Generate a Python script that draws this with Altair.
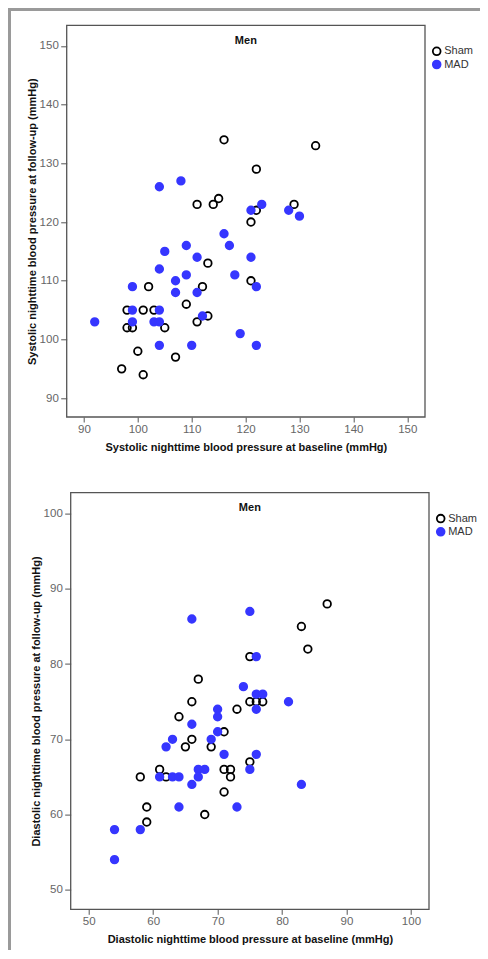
import altair as alt
import pandas as pd

# ---------------- data ----------------
groups = ["Sham", "MAD"]

sys_sham_base = [116, 133, 122, 115, 111, 114, 129, 122, 121, 113, 121, 102, 112, 109,
                 98, 101, 103, 98, 99, 105, 111, 113, 100, 107, 97, 101]
sys_sham_follow = [134, 133, 129, 124, 123, 123, 123, 122, 120, 113, 110, 109, 109, 106,
                   105, 105, 105, 102, 102, 102, 103, 104, 98, 97, 95, 94]
sys_mad_base = [104, 108, 121, 123, 128, 130, 116, 117, 109, 105, 111, 121, 104, 109, 118,
                107, 99, 122, 107, 111, 99, 104, 92, 99, 103, 104, 112, 119, 104, 110, 122]
sys_mad_follow = [126, 127, 122, 123, 122, 121, 118, 116, 116, 115, 114, 114, 112, 111, 111,
                  110, 109, 109, 108, 108, 105, 105, 103, 103, 103, 103, 104, 101, 99, 99, 99]

dia_sham_base = [87, 83, 84, 75, 67, 66, 75, 76, 77, 73, 64, 71, 66, 65, 69, 75, 61, 71, 72,
                 58, 62, 72, 71, 59, 59, 68]
dia_sham_follow = [88, 85, 82, 81, 78, 75, 75, 75, 75, 74, 73, 71, 70, 69, 69, 67, 66, 66, 66,
                   65, 65, 65, 63, 61, 59, 60]
dia_mad_base = [75, 66, 76, 74, 76, 77, 81, 70, 76, 70, 66, 70, 63, 69, 62, 71, 76, 75, 67, 68,
                61, 63, 64, 67, 66, 83, 64, 73, 54, 58, 54]
dia_mad_follow = [87, 86, 81, 77, 76, 76, 75, 74, 74, 73, 72, 71, 70, 70, 69, 68, 68, 66, 66, 66,
                  65, 65, 65, 65, 64, 64, 61, 61, 58, 58, 54]

sys_ticks = [90, 100, 110, 120, 130, 140, 150]
dia_ticks = [50, 60, 70, 80, 90, 100]

panel_title = "Men"
sys_xtitle = "Systolic nighttime blood pressure at baseline (mmHg)"
sys_ytitle = "Systolic nighttime blood pressure at follow-up (mmHg)"
dia_xtitle = "Diastolic nighttime blood pressure at baseline (mmHg)"
dia_ytitle = "Diastolic nighttime blood pressure at follow-up (mmHg)"

BLUE = "#3636ff"
FONT = "Liberation Sans"


def make_df(sx, sy, mx, my):
    return pd.DataFrame({
        "x": sx + mx,
        "y": sy + my,
        "group": [groups[0]] * len(sx) + [groups[1]] * len(mx),
    })


def panel(df, xdom, ydom, xticks, yticks, xtitle, ytitle, w, h, shift, extra=None):
    leg = alt.Legend(title=None, orient="none", legendX=shift + 364.5, legendY=20.5,
                     symbolType="circle", symbolSize=60, symbolStrokeWidth=1.8,
                     labelFont=FONT, labelFontSize=11, labelColor="#333",
                     rowPadding=-1.8, labelOffset=2, padding=0)
    pts = alt.Chart(df).mark_point(size=57, strokeWidth=1.8, opacity=1).encode(
        x=alt.X("x:Q",
                scale=alt.Scale(domain=xdom, nice=False, zero=False, range=[shift, w]),
                axis=alt.Axis(values=xticks, title=xtitle, tickSize=5, labelPadding=1,
                              titlePadding=7)),
        y=alt.Y("y:Q",
                scale=alt.Scale(domain=ydom, nice=False, zero=False),
                axis=alt.Axis(values=yticks, title=ytitle, tickSize=6, labelPadding=2.4,
                              titlePadding=2, offset=-shift)),
        fill=alt.Fill("group:N", sort=groups,
                      scale=alt.Scale(domain=groups, range=["transparent", BLUE]),
                      legend=leg),
        stroke=alt.Stroke("group:N", sort=groups,
                          scale=alt.Scale(domain=groups, range=["black", BLUE]),
                          legend=leg),
    )
    dummy = pd.DataFrame({"t": [panel_title]})
    frame = alt.Chart(dummy).mark_rect(filled=False, stroke="#555", strokeWidth=1.3).encode(
        x=alt.value(shift), x2=alt.value(w), y=alt.value(0), y2=alt.value(h))
    ttl = alt.Chart(dummy).mark_text(font=FONT, fontSize=11, fontWeight="bold",
                                     color="#111", baseline="middle", align="center").encode(
        text="t:N", x=alt.value((shift + w) / 2), y=alt.value(15.6))
    layers = [pts, frame, ttl]
    if extra is not None:
        layers = extra + layers
    return alt.layer(*layers).properties(width=w, height=h)


# outer gray border lines (page decoration), drawn from top panel
border_df = pd.DataFrame({"a": [0]})
vline = alt.Chart(border_df).mark_rule(color="#9a9a9a", strokeWidth=3).encode(
    x=alt.value(-57.2), y=alt.value(-17.3), y2=alt.value(924.7))
hline = alt.Chart(border_df).mark_rule(color="#9a9a9a", strokeWidth=3).encode(
    x=alt.value(-58.7), x2=alt.value(413.3), y=alt.value(-15.8))

top = panel(make_df(sys_sham_base, sys_sham_follow, sys_mad_base, sys_mad_follow),
            [86.8, 153.3], [86.8, 153.5], sys_ticks, sys_ticks,
            sys_xtitle, sys_ytitle, 358.3, 391.7, 0, extra=[vline, hline])
bottom = panel(make_df(dia_sham_base, dia_sham_follow, dia_mad_base, dia_mad_follow),
               [47.2, 102.8], [47.4, 102.8], dia_ticks, dia_ticks,
               dia_xtitle, dia_ytitle, 362.3, 416.7, 4)

chart = alt.vconcat(top, bottom, spacing=75.3, bounds="flush").resolve_scale(
    x="independent", y="independent", fill="independent", stroke="independent"
).resolve_legend(fill="independent", stroke="independent").properties(
    autosize=alt.AutoSizeParams(type="none"),
    padding={"left": 58.7, "top": 17.3, "right": 413.3, "bottom": 924.7},
).configure_view(stroke="transparent").configure_axis(
    labelFont=FONT, labelFontSize=11.5, labelColor="#666", tickColor="#555",
    tickWidth=1, domain=False, grid=False, titleFont=FONT, titleFontSize=11,
    titleFontWeight="bold", titleColor="#111"
)

chart.save("out.html", embed_options={"renderer": "svg", "actions": False})
